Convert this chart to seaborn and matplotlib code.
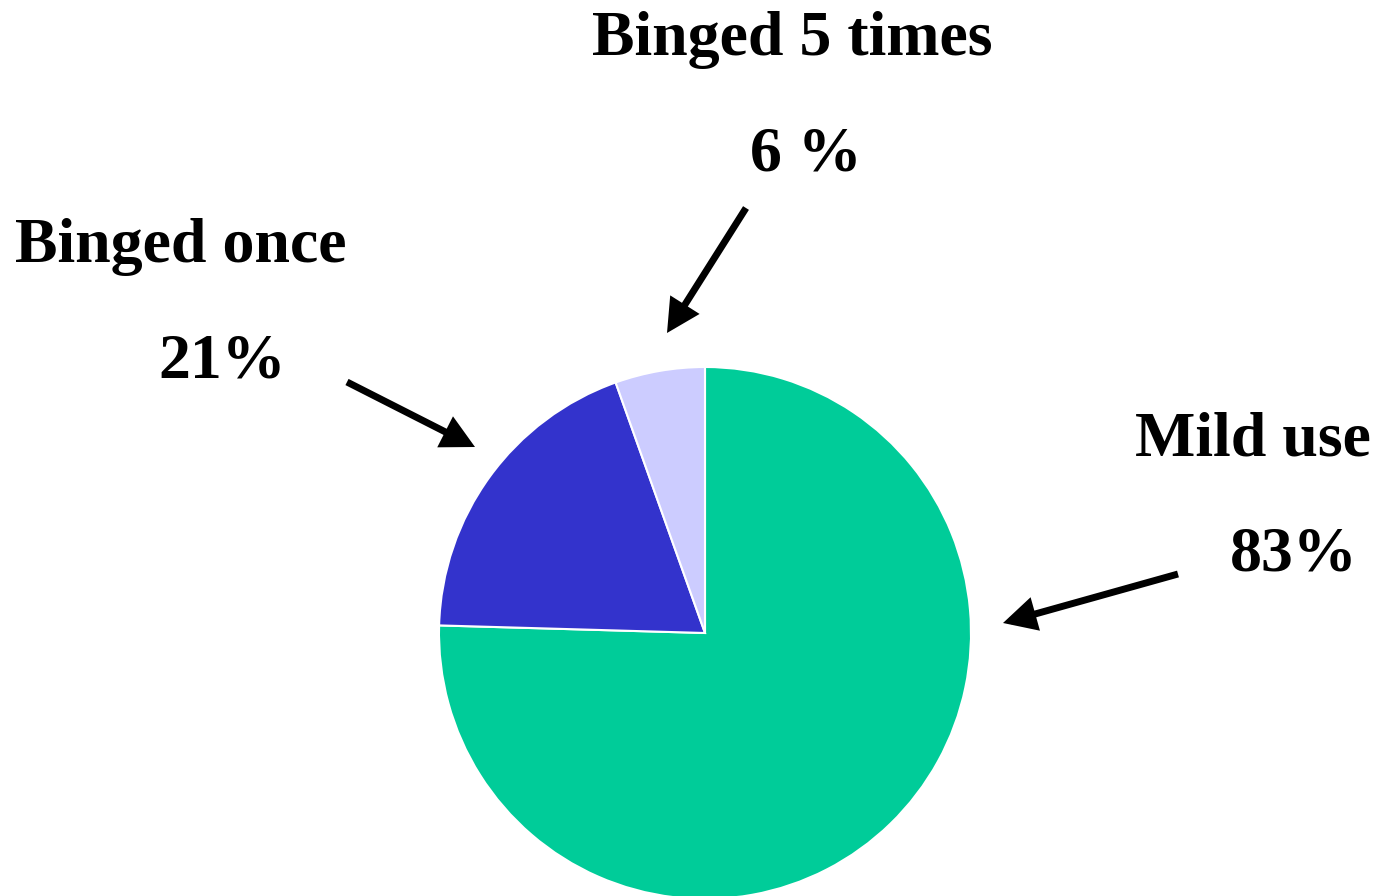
import matplotlib
matplotlib.use("Agg")
import matplotlib.pyplot as plt
import seaborn as sns

sns.set_theme(style="white")
plt.rcParams['font.family'] = ['Liberation Serif', 'DejaVu Serif']

categories = ["Mild use", "Binged once", "Binged 5 times"]
values = [83, 21, 6]
value_labels = ["83%", "21%", "6 %"]
colors = ["#00CC99", "#3333CC", "#CCCCFF"]

W, H = 1375, 896
fig = plt.figure(figsize=(W / 100, H / 100), dpi=100)
ax = fig.add_axes([0, 0, 1, 1])
ax.set_xlim(0, W)
ax.set_ylim(0, H)
ax.set_aspect('equal')
ax.axis('off')

def Y(y):
    return H - y

ax.pie(values, colors=colors, startangle=90, counterclock=False,
       center=(705, Y(633)), radius=266, frame=True,
       wedgeprops=dict(edgecolor='white', linewidth=1.5))
ax.set_xlim(0, W)
ax.set_ylim(0, H)
ax.axis('off')

fs = 46
# Text positions (left x, baseline y) in pixel coords from top
text_pos = {
    "Mild use": ((1135, 455), (1230, 570)),
    "Binged once": ((15, 262), (158, 377)),
    "Binged 5 times": ((592, 55), (750, 170)),
}
for cat, lab in zip(categories, value_labels):
    (x1, y1), (x2, y2) = text_pos[cat]
    ax.text(x1, Y(y1), cat, fontsize=fs, fontweight='bold', ha='left', va='baseline', color='black')
    ax.text(x2, Y(y2), lab, fontsize=fs, fontweight='bold', ha='left', va='baseline', color='black')

arrows = {
    "Mild use": ((1178, 574), (1003, 623)),
    "Binged once": ((347, 382), (475, 447)),
    "Binged 5 times": ((746, 208), (667, 333)),
}
for cat in categories:
    (sx, sy), (ex, ey) = arrows[cat]
    ax.annotate("", xy=(ex, Y(ey)), xytext=(sx, Y(sy)),
                arrowprops=dict(arrowstyle="-|>,head_length=1.35,head_width=0.7",
                                color='black', lw=5, shrinkA=0, shrinkB=0,
                                capstyle='butt', joinstyle='miter'))

fig.savefig("out.png", dpi=100)
